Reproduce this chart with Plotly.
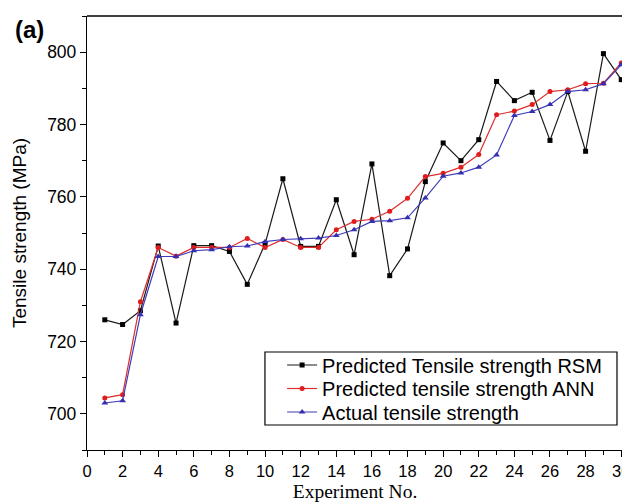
import plotly.graph_objects as go

experiment = list(range(1, 31))

rsm = [726.0, 724.7, 728.5, 746.4, 725.1, 746.5, 746.5, 744.9, 735.8, 747.0,
       765.0, 746.3, 746.3, 759.2, 744.0, 769.1, 738.2, 745.6, 764.2, 774.9,
       770.0, 775.8, 791.9, 786.6, 788.9, 775.6, 789.1, 772.6, 799.6, 792.4]

ann = [704.4, 705.3, 731.0, 746.0, 743.6, 746.0, 746.0, 746.0, 748.5, 746.0,
       748.2, 746.0, 746.0, 750.9, 753.2, 753.8, 756.0, 759.6, 765.6, 766.5,
       768.2, 771.7, 782.7, 783.7, 785.5, 789.1, 789.6, 791.3, 791.4, 797.0]

actual = [703.0, 703.6, 727.4, 743.5, 743.5, 745.1, 745.4, 746.2, 746.4, 747.6,
          748.2, 748.4, 748.6, 749.3, 750.9, 753.2, 753.4, 754.2, 759.7, 765.7,
          766.6, 768.2, 771.6, 782.5, 783.6, 785.5, 789.1, 789.6, 791.3, 796.5]

names = ["Predicted Tensile strength RSM",
         "Predicted tensile strength ANN",
         "Actual tensile strength"]

x_ticks = list(range(0, 31, 2))
y_ticks = [700, 720, 740, 760, 780, 800]

fig = go.Figure()
fig.add_trace(go.Scatter(x=experiment, y=rsm, name=names[0], mode="lines+markers",
                         legend="legend",
                         line=dict(color="#1a1a1a", width=1.2),
                         marker=dict(symbol="square", size=5, color="#000000")))
fig.add_trace(go.Scatter(x=experiment, y=ann, name=names[1], mode="lines+markers",
                         legend="legend2",
                         line=dict(color="#dd2e2e", width=1.2),
                         marker=dict(symbol="circle", size=5, color="#e01c1c")))
fig.add_trace(go.Scatter(x=experiment, y=actual, name=names[2], mode="lines+markers",
                         legend="legend3",
                         line=dict(color="#3f3ab8", width=1.2),
                         marker=dict(symbol="triangle-up", size=6, color="#3530b0")))

axis_font = dict(family="Liberation Sans, Arial, sans-serif", color="#000000")
leg_font = dict(family="Liberation Sans, Arial, sans-serif", size=20, color="#000000")

def leg(yc):
    return dict(x=0.364, y=yc, xanchor="left", yanchor="middle",
                borderwidth=0, bgcolor="rgba(0,0,0,0)", font=leg_font,
                itemwidth=30)

# The page body has an 8px margin, so the figure is sized/margined to compensate.
fig.update_layout(
    width=622, height=494,
    margin=dict(l=79, r=7, t=8, b=52),
    paper_bgcolor="white", plot_bgcolor="white",
    showlegend=True,
    legend=leg(0.1959),
    legend2=leg(0.1417),
    legend3=leg(0.0876),
    xaxis=dict(range=[0, 30.1], tickmode="array", tickvals=x_ticks,
               automargin=False, ticklabeloverflow="allow",
               ticks="outside", ticklen=6, tickwidth=1, tickcolor="#000000",
               minor=dict(dtick=1, ticks="outside", ticklen=4, tickcolor="#000000"),
               showline=True, linecolor="#000000", linewidth=1.3,
               showgrid=False, zeroline=False,
               tickfont=dict(size=16.5, **axis_font),
               title=dict(text="Experiment No.", standoff=14,
                          font=dict(family="Liberation Serif, Times New Roman, serif",
                                    size=19.5, color="#000000"))),
    yaxis=dict(range=[690, 810], tickmode="array", tickvals=y_ticks,
               automargin=False,
               ticks="outside", ticklen=6, tickwidth=1, tickcolor="#000000",
               minor=dict(dtick=10, tick0=690, ticks="outside", ticklen=4, tickcolor="#000000"),
               showline=True, linecolor="#000000", linewidth=1.3,
               showgrid=False, zeroline=False,
               tickfont=dict(size=17.5, **axis_font),
               title=dict(text="Tensile strength (MPa)", standoff=15,
                          font=dict(size=19, **axis_font))),
    shapes=[
        dict(type="line", xref="paper", yref="paper", x0=0, x1=1.013, y0=1, y1=1,
             line=dict(color="#000000", width=1.3)),
        dict(type="rect", xref="paper", yref="paper", x0=0.332, x1=0.9888,
             y0=0.0576, y1=0.2258, line=dict(color="#000000", width=1.2),
             fillcolor="rgba(0,0,0,0)", layer="above"),
    ],
    annotations=[dict(text="<b>(a)</b>", xref="paper", yref="paper", x=-0.108, y=0.970,
                      xanchor="center", yanchor="middle", showarrow=False,
                      font=dict(family="Liberation Sans, Arial, sans-serif", size=24,
                                color="#000000"))],
)

fig.write_html("out.html")
